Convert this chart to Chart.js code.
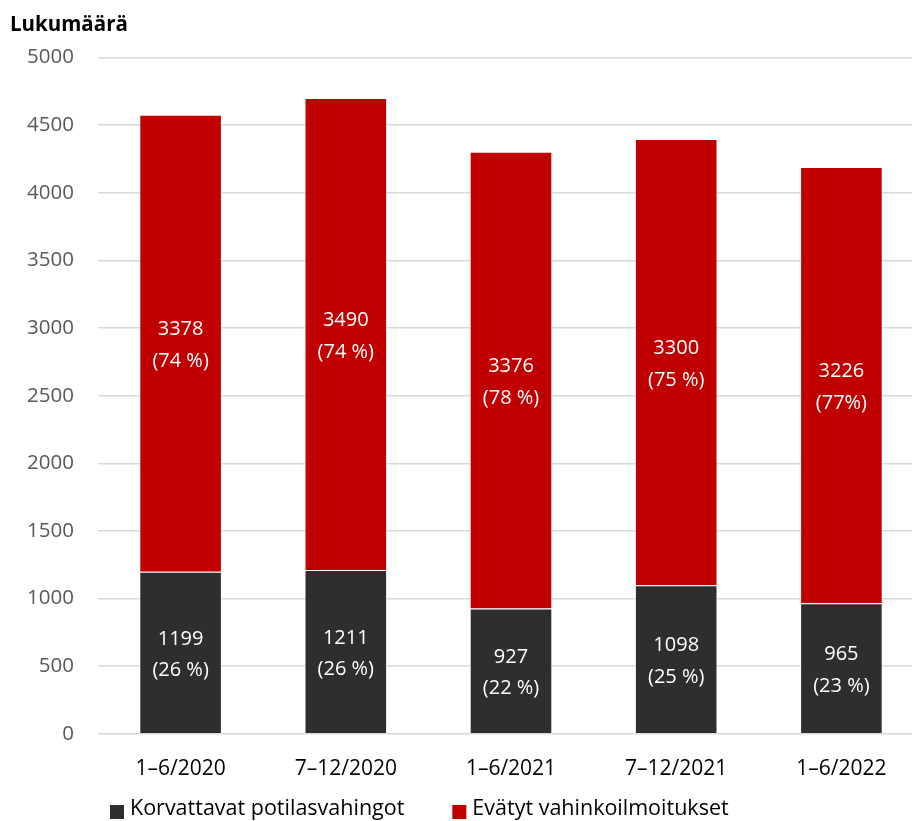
<!DOCTYPE html>
<html lang="fi">
<head>
<meta charset="utf-8">
<title>Lukumäärä</title>
<script src="https://cdn.jsdelivr.net/npm/chart.js@4.4.1/dist/chart.umd.min.js"></script>
<style>
    html, body {
        margin: 0;
        padding: 0;
        background: #ffffff;
        overflow: hidden;
    }
    #chart-wrap {
        position: relative;
        width: 924px;
        height: 821px;
    }
</style>
</head>
<body>
<div id="chart-wrap">
    <canvas id="chart-canvas"></canvas>
</div>
<script>
const periods = ['1–6/2020', '7–12/2020', '1–6/2021', '7–12/2021', '1–6/2022'];

const korvattavat = [1199, 1211, 927, 1098, 965];
const korvattavatPct = ['26 %', '26 %', '22 %', '25 %', '23 %'];

const evatyt = [3378, 3490, 3376, 3300, 3226];
const evatytPct = ['74 %', '74 %', '78 %', '75 %', '77%'];

const seriesNames = ['Korvattavat potilasvahingot', 'Evätyt vahinkoilmoitukset'];

const FONT = "'Open Sans', 'Noto Sans', sans-serif";

// text in the middle of each bar segment: value and share on two lines
const segmentLabels = {
    id: 'segmentLabels',
    afterDatasetsDraw(chart) {
        const ctx = chart.ctx;
        ctx.save();
        ctx.font = `20px ${FONT}`;
        ctx.fillStyle = '#ffffff';
        ctx.textAlign = 'center';
        ctx.textBaseline = 'middle';
        chart.data.datasets.forEach((dataset, i) => {
            const meta = chart.getDatasetMeta(i);
            meta.data.forEach((bar, j) => {
                const mid = (bar.y + bar.base) / 2;
                ctx.fillText(String(dataset.data[j]), bar.x, mid - 13.5);
                ctx.fillText(`(${dataset.shares[j]})`, bar.x, mid + 18);
            });
        });
        ctx.restore();
    }
};

// legend row along the bottom edge, left aligned like the original
const bottomLegend = {
    id: 'bottomLegend',
    afterDraw(chart) {
        const ctx = chart.ctx;
        const box = 14;
        const y = chart.height - 9;
        let x = 110;
        ctx.save();
        ctx.font = `21.5px ${FONT}`;
        ctx.textBaseline = 'middle';
        ctx.textAlign = 'left';
        chart.data.datasets.forEach((dataset) => {
            ctx.fillStyle = dataset.backgroundColor;
            ctx.fillRect(x, y - box / 2, box, box);
            ctx.fillStyle = '#000000';
            ctx.fillText(dataset.label, x + box + 6, y - 3);
            x += box + 6 + ctx.measureText(dataset.label).width + 48;
        });
        ctx.restore();
    }
};

const ctx = document.getElementById('chart-canvas').getContext('2d');
const chart = new Chart(ctx, {
    type: 'bar',
    data: {
        labels: periods,
        datasets: [
            {
                label: seriesNames[0],
                data: korvattavat,
                shares: korvattavatPct,
                backgroundColor: '#2e2e2e',
                borderColor: 'rgba(255, 255, 255, 0.55)',
                borderWidth: 1,
            },
            {
                label: seriesNames[1],
                data: evatyt,
                shares: evatytPct,
                backgroundColor: '#c00000',
                borderColor: 'rgba(255, 255, 255, 0.55)',
                borderWidth: 1,
            },
        ],
    },
    options: {
        responsive: true,
        maintainAspectRatio: false,
        animation: false,
        barPercentage: 0.5,
        categoryPercentage: 1,
        layout: {
            padding: { left: 10, right: 0, top: 0, bottom: 16 },
        },
        scales: {
            x: {
                stacked: true,
                grid: { display: false, drawTicks: false },
                border: { display: false },
                ticks: {
                    color: '#000000',
                    padding: 23,
                    font: { family: FONT, size: 21 },
                },
            },
            y: {
                stacked: true,
                min: 0,
                max: 5000,
                afterFit(scale) {
                    scale.width = 88;
                },
                grid: { color: '#d9d9d9', lineWidth: 1.5, drawTicks: false },
                border: { display: false },
                ticks: {
                    stepSize: 500,
                    color: '#595959',
                    padding: 24,
                    font: { family: FONT, size: 20.5 },
                    callback: (value) => String(value),
                },
            },
        },
        plugins: {
            legend: { display: false },
            tooltip: { enabled: false },
            title: {
                display: true,
                text: 'Lukumäärä',
                align: 'start',
                color: '#000000',
                font: { family: FONT, size: 20.5, weight: 'bold', lineHeight: 1.2 },
                padding: { top: 13, bottom: 20 },
            },
        },
    },
    plugins: [segmentLabels, bottomLegend],
});
</script>
</body>
</html>
